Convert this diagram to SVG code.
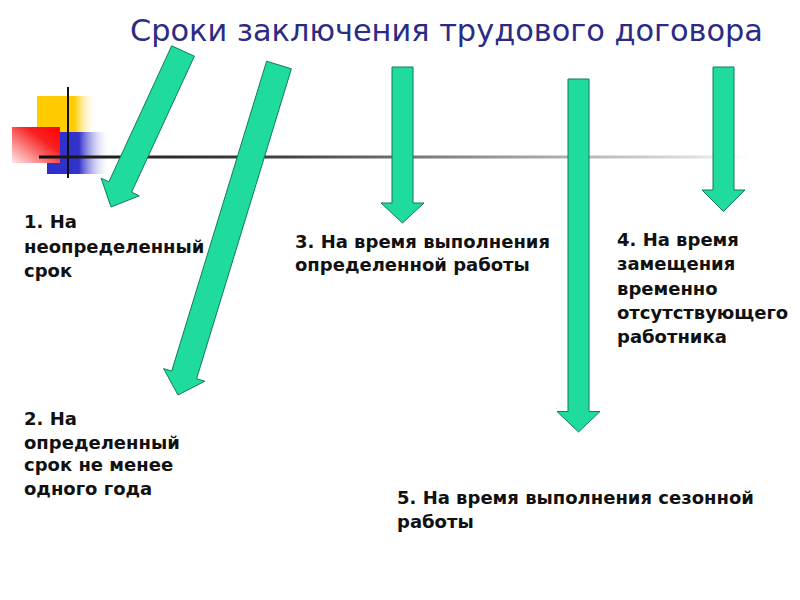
<svg xmlns="http://www.w3.org/2000/svg" width="800" height="600" viewBox="0 0 800 600">
  <defs>
    <linearGradient id="gYellow" x1="0" y1="0" x2="1" y2="0">
      <stop offset="0" stop-color="#FFCC00"/>
      <stop offset="0.62" stop-color="#FFCC00"/>
      <stop offset="1" stop-color="#FFFFFF" stop-opacity="0"/>
    </linearGradient>
    <linearGradient id="gBlue" x1="0" y1="0" x2="1" y2="0">
      <stop offset="0" stop-color="#2E2EC8"/>
      <stop offset="0.5" stop-color="#3333CC"/>
      <stop offset="1" stop-color="#FFFFFF" stop-opacity="0"/>
    </linearGradient>
    <linearGradient id="gRed" x1="1" y1="0" x2="0" y2="1">
      <stop offset="0" stop-color="#FF0000"/>
      <stop offset="0.35" stop-color="#F82020"/>
      <stop offset="1" stop-color="#FFE8E8"/>
    </linearGradient>
    <linearGradient id="gLine" gradientUnits="userSpaceOnUse" x1="40" y1="0" x2="750" y2="0">
      <stop offset="0" stop-color="#111111"/>
      <stop offset="0.35" stop-color="#444444"/>
      <stop offset="0.65" stop-color="#999999"/>
      <stop offset="0.92" stop-color="#DDDDDD"/>
      <stop offset="1" stop-color="#FFFFFF"/>
    </linearGradient>
  </defs>
  <style>
    .arrow { fill: #1FDB9D; stroke: #137A5B; stroke-width: 1; stroke-linejoin: miter; }
    .title { font-family: "DejaVu Sans", "Liberation Sans", sans-serif; font-size: 30px; fill: #2B2B85; }
    .lbl { font-family: "DejaVu Sans", "Liberation Sans", sans-serif; font-size: 18px; font-weight: bold; fill: #111111; }
  </style>
  <rect width="800" height="600" fill="#FFFFFF"/>

  <g id="decoration">
    <rect x="37" y="96" width="60" height="36" fill="url(#gYellow)"/>
    <rect x="47" y="132" width="64" height="42" fill="url(#gBlue)"/>
    <rect x="12" y="127" width="48" height="36" fill="url(#gRed)"/>
    <line x1="68" y1="87" x2="68" y2="178" stroke="#111111" stroke-width="2"/>
  </g>

  <g id="timeline">
    <rect x="39" y="155.5" width="713" height="3" fill="url(#gLine)"/>
  </g>

  <g id="title">
    <text class="title" x="130" y="41" textLength="633" lengthAdjust="spacingAndGlyphs">Сроки заключения трудового договора</text>
  </g>

  <g id="connectors">
    <polygon class="arrow" points="171.7,45.8 194.4,56.2 131.6,192.2 139.3,195.8 111,207 101.1,178.2 108.9,181.8"/>
    <polygon class="arrow" points="266.6,61.2 291.4,68.8 196.6,378.7 204.8,381.2 178,395 163.6,368.6 171.7,371.1"/>
    <polygon class="arrow" points="392,67 413,67 413,203 424,203 402.5,223 381,203 392,203"/>
    <polygon class="arrow" points="568,79 589,79 589,411.5 600,411.5 578.5,432 557,411.5 568,411.5"/>
    <polygon class="arrow" points="713,67 734,67 734,190 745,190 723.5,211.5 702,190 713,190"/>
  </g>

  <g id="node1">
    <text class="lbl" x="24" y="228">1. На</text>
    <text class="lbl" x="24" y="252.5">неопределенный</text>
    <text class="lbl" x="24" y="276.5">срок</text>
  </g>
  <g id="node2">
    <text class="lbl" x="24" y="425">2. На</text>
    <text class="lbl" x="24" y="448.5">определенный</text>
    <text class="lbl" x="24" y="471">срок не менее</text>
    <text class="lbl" x="24" y="494.5">одного года</text>
  </g>
  <g id="node3">
    <text class="lbl" x="295" y="247.5">3. На время выполнения</text>
    <text class="lbl" x="295" y="271">определенной работы</text>
  </g>
  <g id="node4">
    <text class="lbl" x="617" y="245.5">4. На время</text>
    <text class="lbl" x="617" y="270">замещения</text>
    <text class="lbl" x="617" y="294.5">временно</text>
    <text class="lbl" x="617" y="318.5">отсутствующего</text>
    <text class="lbl" x="617" y="343">работника</text>
  </g>
  <g id="node5">
    <text class="lbl" x="397" y="504">5. На время выполнения сезонной</text>
    <text class="lbl" x="397" y="527.5">работы</text>
  </g>
</svg>
